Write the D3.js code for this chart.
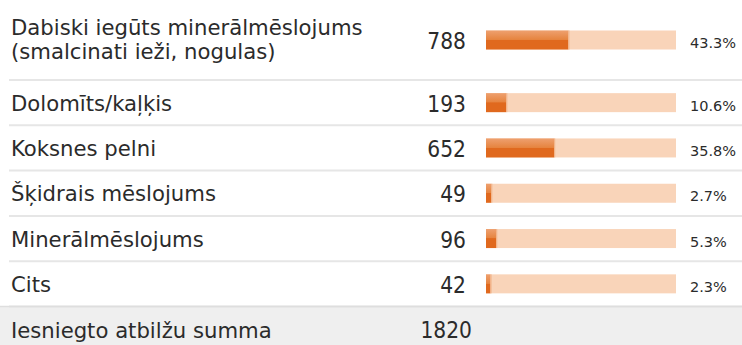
<!DOCTYPE html>
<html>
<head>
<meta charset="utf-8">
<script src="https://cdn.jsdelivr.net/npm/d3@7"></script>
<style>
  html, body { margin: 0; padding: 0; background: #fff; }
  svg { display: block; }
</style>
</head>
<body>
<svg id="chart" width="742" height="345"></svg>
<script>
// Survey answers: category label lines, response counts and share of all answers (%)
const categories = [
  ["Dabiski iegūts minerālmēslojums", "(smalcinati ieži, nogulas)"],
  ["Dolomīts/kaļķis"],
  ["Koksnes pelni"],
  ["Šķidrais mēslojums"],
  ["Minerālmēslojums"],
  ["Cits"]
];
const counts = [788, 193, 652, 49, 96, 42];
const percents = [43.3, 10.6, 35.8, 2.7, 5.3, 2.3];
const totalLabel = "Iesniegto atbilžu summa";
const total = 1820;

const W = 742, H = 345;
const svg = d3.select("#chart");

const labelFont = "'DejaVu Sans', sans-serif";
const numFont = "'DejaVu Sans Condensed', 'DejaVu Sans', sans-serif";

// Row layout: the first row holds a two-line label and is taller
const firstRowH = 80, rowH = 45.3;
const rowTop = i => i === 0 ? 0 : firstRowH + (i - 1) * rowH;
const rowHeight = i => i === 0 ? firstRowH : rowH;
const rowMid = i => rowTop(i) + rowHeight(i) / 2;
const footerTop = rowTop(categories.length - 1) + rowH;

// Percent scale for the bar track
const x = d3.scaleLinear().domain([0, 100]).range([486, 676]);
const barH = 19;

// Gradient for the filled part of each bar
const defs = svg.append("defs");
const grad = defs.append("linearGradient")
  .attr("id", "fillGrad").attr("x1", 0).attr("y1", 0).attr("x2", 0).attr("y2", 1);
grad.append("stop").attr("offset", "0%").attr("stop-color", "#eea06f");
grad.append("stop").attr("offset", "48%").attr("stop-color", "#e6843f");
grad.append("stop").attr("offset", "50%").attr("stop-color", "#e0691e");
grad.append("stop").attr("offset", "100%").attr("stop-color", "#e0691e");

// Footer background
svg.append("rect")
  .attr("x", 0).attr("y", footerTop)
  .attr("width", W).attr("height", H - footerTop)
  .attr("fill", "#efefef");

// Row separators
const seps = d3.range(categories.length).map(i => rowTop(i) + rowHeight(i));
svg.selectAll("line.sep").data(seps).join("line")
  .attr("class", "sep")
  .attr("x1", 9).attr("x2", W)
  .attr("y1", d => d).attr("y2", d => d)
  .attr("stroke", "#e6e6e6").attr("stroke-width", 2);

const rows = svg.selectAll("g.row")
  .data(categories.map((c, i) => ({ lines: c, count: counts[i], pct: percents[i], i })))
  .join("g").attr("class", "row");

// Category labels
rows.each(function(d) {
  const g = d3.select(this);
  const n = d.lines.length;
  const lineGap = 24.5;
  const base = rowMid(d.i) + 8 - (n - 1) * (lineGap / 2 + 1);
  d.lines.forEach((t, k) => {
    g.append("text")
      .attr("x", 11).attr("y", base + k * lineGap)
      .attr("font-family", labelFont).attr("font-size", 21.2)
      .attr("fill", "#2b2b2b")
      .text(t);
  });
});

// Counts
rows.append("text")
  .attr("x", 466).attr("y", d => rowMid(d.i) + 9)
  .attr("text-anchor", "end")
  .attr("font-family", numFont).attr("font-size", 22.5)
  .attr("fill", "#2b2b2b")
  .text(d => d.count);

// Bar track
rows.append("rect")
  .attr("x", x(0)).attr("y", d => rowMid(d.i) - barH / 2)
  .attr("width", x(100) - x(0)).attr("height", barH)
  .attr("fill", "#f9d4b9");

// Filled part
rows.append("rect")
  .attr("x", x(0)).attr("y", d => rowMid(d.i) - barH / 2)
  .attr("width", d => x(d.pct) - x(0)).attr("height", barH)
  .attr("fill", "url(#fillGrad)");

// Light edge at the end of the filled part
rows.append("rect")
  .attr("x", d => x(d.pct)).attr("y", d => rowMid(d.i) - barH / 2)
  .attr("width", 1.2).attr("height", barH)
  .attr("fill", "#f2b48a");

// Percent labels
rows.append("text")
  .attr("x", 690).attr("y", d => rowMid(d.i) + 8)
  .attr("font-family", labelFont).attr("font-size", 14.5)
  .attr("fill", "#2b2b2b")
  .text(d => d.pct.toFixed(1) + "%");

// Footer: total of submitted answers
svg.append("line")
  .attr("x1", 0).attr("x2", W)
  .attr("y1", footerTop).attr("y2", footerTop)
  .attr("stroke", "#dedede").attr("stroke-width", 1.5);

svg.append("text")
  .attr("x", 11).attr("y", 338)
  .attr("font-family", labelFont).attr("font-size", 21.2)
  .attr("fill", "#2b2b2b")
  .text(totalLabel);

svg.append("text")
  .attr("x", 472).attr("y", 338)
  .attr("text-anchor", "end")
  .attr("font-family", numFont).attr("font-size", 22.5)
  .attr("fill", "#2b2b2b")
  .text(total);
</script>
</body>
</html>
